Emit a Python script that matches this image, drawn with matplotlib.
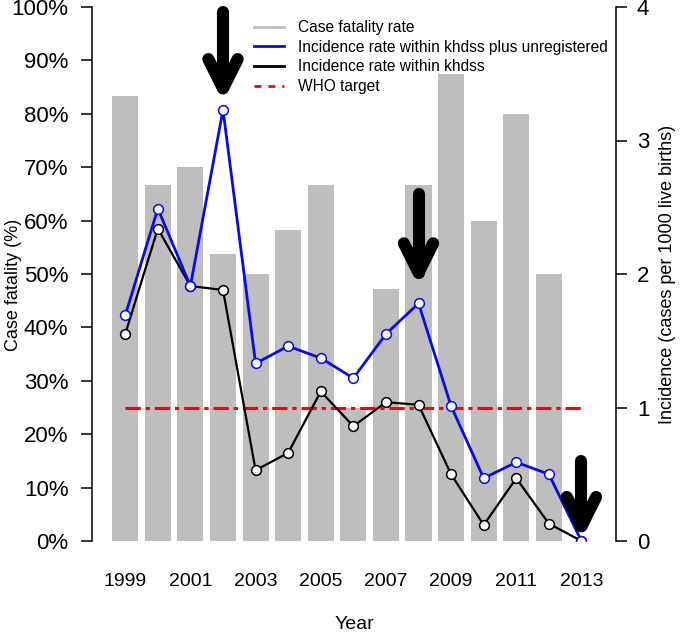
import matplotlib
matplotlib.use("Agg")
import matplotlib.pyplot as plt
from matplotlib.ticker import FuncFormatter

plt.rcParams['font.family'] = ['Liberation Sans', 'DejaVu Sans']

# data
years = list(range(1999, 2014))
case_fatality = [83.3, 66.7, 70.0, 53.8, 50.0, 58.3, 66.7, 25.0,
                 47.1, 66.7, 87.5, 60.0, 80.0, 50.0, 0.0]
incidence_all = [1.69, 2.49, 1.91, 3.23, 1.33, 1.46, 1.37, 1.22,
                 1.55, 1.78, 1.01, 0.47, 0.59, 0.50, 0.0]
incidence_khdss = [1.55, 2.34, 1.91, 1.88, 0.53, 0.66, 1.12, 0.86,
                   1.04, 1.02, 0.50, 0.12, 0.47, 0.13, 0.0]
who_target = 1.0
year_ticks = list(range(1999, 2014, 2))

# arrows marking the outbreak years (incidence units)
arrow_years = [2002, 2008, 2013]
arrow_tops = [3.96, 2.60, 0.60]
arrow_tips = [3.39, 2.01, 0.11]

BLUE = '#0a0ae6'
GRAY = '#bebebe'


def draw_arrow(ax, x, top, tip, dx=0.45, dy=0.22):
    """thick black down arrow with an open chevron head"""
    kw = dict(color='black', lw=8.7, solid_capstyle='round',
              solid_joinstyle='round', zorder=6, clip_on=False)
    ax.plot([x, x], [top, tip], **kw)
    ax.plot([x - dx, x, x + dx], [tip + dy, tip, tip + dy], **kw)


fig = plt.figure(figsize=(6.87, 6.33), dpi=100)
ax = fig.add_axes([92 / 687, 92 / 633, 524 / 687, 534 / 633])

ax.bar(years, case_fatality, width=0.8, color=GRAY, zorder=1)
ax.set_xlim(1997.98, 2014.06)
ax.set_ylim(0, 100)
for s in ['top', 'right', 'bottom']:
    ax.spines[s].set_visible(False)
ax.spines['left'].set_linewidth(1.1)
ax.set_yticks(range(0, 101, 10))
ax.yaxis.set_major_formatter(FuncFormatter(lambda v, p: f"{v:.0f}%"))
ax.tick_params(axis='y', length=8, width=1.1, pad=9, labelsize=16)
ax.set_xticks(year_ticks)
ax.tick_params(axis='x', length=0, pad=23, labelsize=14)
ax.set_xlabel('Year', fontsize=14)
ax.xaxis.set_label_coords(0.5, -0.140)
ax.set_ylabel('Case fatality (%)', fontsize=13)
ax.yaxis.set_label_coords(-0.134, 0.48)

ax2 = ax.twinx()
ax2.set_ylim(0, 4)
for s in ['top', 'left', 'bottom']:
    ax2.spines[s].set_visible(False)
ax2.spines['right'].set_linewidth(1.1)
ax2.set_yticks(range(0, 5))
ax2.tick_params(axis='y', length=8, width=1.1, pad=7, labelsize=16)
ax2.set_ylabel('Incidence (cases per 1000 live births)', fontsize=13)
ax2.yaxis.set_label_coords(1.082, 0.5)

ax2.hlines(who_target, years[0], years[-1], color='red', lw=2.2,
           linestyles=[(0, (5, 1.6, 1.4, 1.6))], zorder=3)
ax2.plot(years, incidence_khdss, color='black', lw=1.6, marker='o',
         ms=7, mfc='white', mec='black', mew=1.1, zorder=4)
ax2.plot(years, incidence_all, color=BLUE, lw=2.0, marker='o',
         ms=7, mfc='white', mec=BLUE, mew=1.1, zorder=5)

for x, top, tip in zip(arrow_years, arrow_tops, arrow_tips):
    draw_arrow(ax2, x, top, tip)

handles = [
    plt.Line2D([], [], color=GRAY, lw=2),
    plt.Line2D([], [], color=BLUE, lw=2),
    plt.Line2D([], [], color='black', lw=2),
    plt.Line2D([], [], color='red', lw=2, ls=(0, (2.5, 2.5))),
]
labels = ['Case fatality rate',
          'Incidence rate within khdss plus unregistered',
          'Incidence rate within khdss',
          'WHO target']
ax2.legend(handles, labels, loc='upper left',
           bbox_to_anchor=((254 - 92) / 524, (541 - 20) / 534),
           frameon=False, fontsize=11.2, handlelength=1.9,
           handletextpad=0.9, labelspacing=0.3, borderaxespad=0,
           borderpad=0)

fig.savefig('out.png', dpi=100)
